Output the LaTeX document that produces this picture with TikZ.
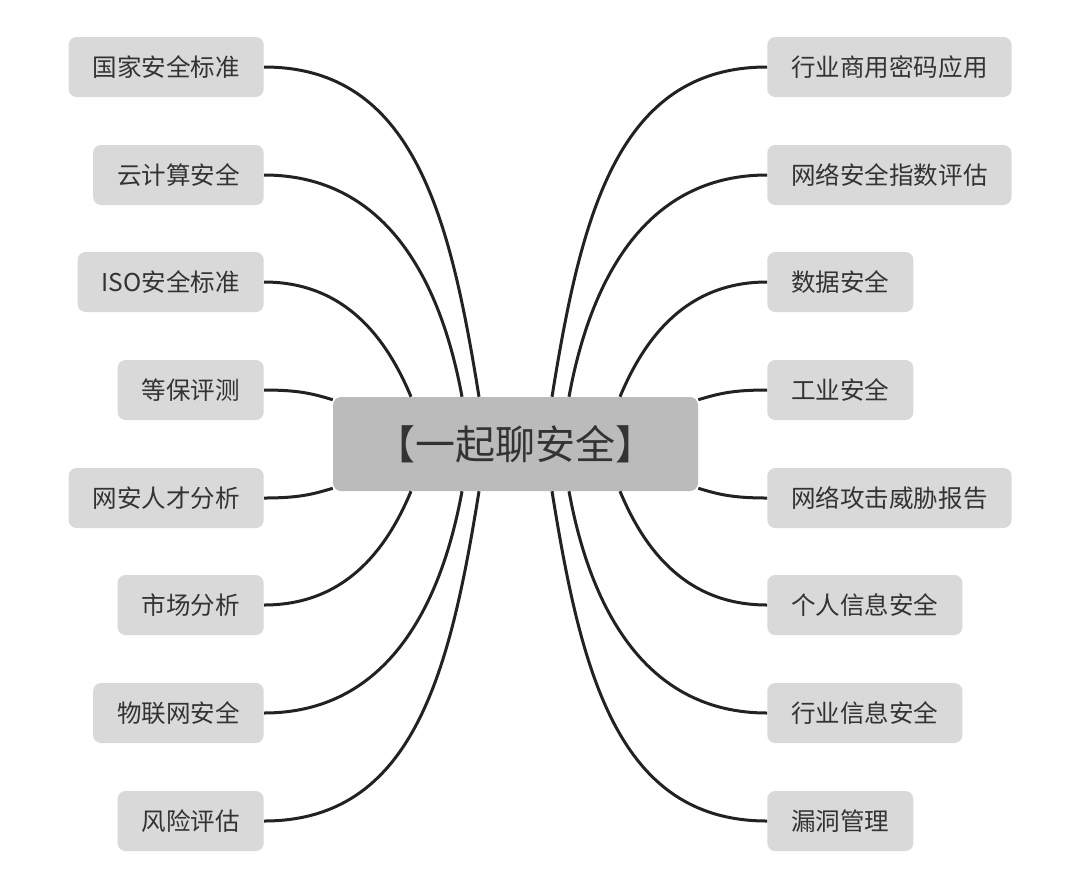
\documentclass[tikz,border=0pt]{standalone}
\usepackage{fontspec}
\setmainfont{Noto Sans CJK SC}
\usepackage{tikz}
\usetikzlibrary{positioning,calc}
\definecolor{topicgray}{HTML}{D9D9D9}
\definecolor{hubgray}{HTML}{BBBBBB}
\definecolor{inkgray}{HTML}{333333}
\definecolor{linegray}{HTML}{222222}
\tikzstyle{topic} = [rectangle, fill=topicgray, text=inkgray, rounded corners=6pt, inner xsep=18pt, minimum height=45pt, font=\fontsize{18.4pt}{22pt}\selectfont]
\tikzstyle{hub} = [rectangle, fill=hubgray, text=inkgray, rounded corners=6pt, minimum width=273.75pt, minimum height=70.5pt, font=\fontsize{30pt}{34pt}\selectfont]
\tikzstyle{branch} = [draw=linegray, line width=2.25pt]

\begin{document}
\begin{tikzpicture}[x=0.75pt, y=-0.75pt]
    \useasboundingbox (0,0) rectangle (1080,893);

    % 中心主题
    \node[hub] (main) at (515.5,444) {【一起聊安全】};

    % 左侧分支
    \node[topic, anchor=east] (natstd) at (264,67) {国家安全标准};
    \node[topic, anchor=east] (cloud) at (264,175) {云计算安全};
    \node[topic, anchor=east] (isostd) at (264,282) {ISO安全标准};
    \node[topic, anchor=east] (mlps) at (264,390) {等保评测};
    \node[topic, anchor=east] (talent) at (264,498) {网安人才分析};
    \node[topic, anchor=east] (market) at (264,605) {市场分析};
    \node[topic, anchor=east] (iot) at (264,713) {物联网安全};
    \node[topic, anchor=east] (risk) at (264,821) {风险评估};

    % 右侧分支
    \node[topic, anchor=west] (crypto) at (767,67) {行业商用密码应用};
    \node[topic, anchor=west] (index) at (767,175) {网络安全指数评估};
    \node[topic, anchor=west] (data) at (767,282) {数据安全};
    \node[topic, anchor=west] (ics) at (767,390) {工业安全};
    \node[topic, anchor=west] (threat) at (767,498) {网络攻击威胁报告};
    \node[topic, anchor=west] (privacy) at (767,605) {个人信息安全};
    \node[topic, anchor=west] (industry) at (767,713) {行业信息安全};
    \node[topic, anchor=west] (vuln) at (767,821) {漏洞管理};

    % 左侧连线
    \draw[branch] (natstd.east) .. controls +(150,0) and +(-29,-180) .. ($(main.north)+(-36.5,0)$);
    \draw[branch] (cloud.east) .. controls +(120,0) and +(-22,-120) .. ($(main.north)+(-53.5,0)$);
    \draw[branch] (isostd.east) .. controls +(80,0) and +(-25,-60) .. ($(main.north)+(-104.5,0)$);
    \draw[branch] (mlps.east) .. controls +(35,0) and +(-20,-6) .. ($(main.north west)+(0,3)$);
    \draw[branch] (talent.east) .. controls +(35,0) and +(-20,6) .. ($(main.south west)+(0,-3)$);
    \draw[branch] (market.east) .. controls +(80,0) and +(-25,60) .. ($(main.south)+(-104.5,0)$);
    \draw[branch] (iot.east) .. controls +(120,0) and +(-22,120) .. ($(main.south)+(-53.5,0)$);
    \draw[branch] (risk.east) .. controls +(150,0) and +(-29,180) .. ($(main.south)+(-36.5,0)$);

    % 右侧连线
    \draw[branch] (crypto.west) .. controls +(-150,0) and +(29,-180) .. ($(main.north)+(36.5,0)$);
    \draw[branch] (index.west) .. controls +(-120,0) and +(22,-120) .. ($(main.north)+(53.5,0)$);
    \draw[branch] (data.west) .. controls +(-80,0) and +(25,-60) .. ($(main.north)+(104.5,0)$);
    \draw[branch] (ics.west) .. controls +(-35,0) and +(20,-6) .. ($(main.north east)+(0,3)$);
    \draw[branch] (threat.west) .. controls +(-35,0) and +(20,6) .. ($(main.south east)+(0,-3)$);
    \draw[branch] (privacy.west) .. controls +(-80,0) and +(25,60) .. ($(main.south)+(104.5,0)$);
    \draw[branch] (industry.west) .. controls +(-120,0) and +(22,120) .. ($(main.south)+(53.5,0)$);
    \draw[branch] (vuln.west) .. controls +(-150,0) and +(29,180) .. ($(main.south)+(36.5,0)$);
\end{tikzpicture}
\end{document}
